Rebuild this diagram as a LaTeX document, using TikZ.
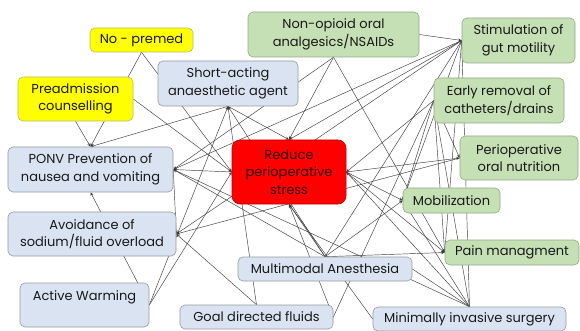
\documentclass[tikz,border=0pt]{standalone}
\usepackage{fontspec}
\setmainfont{Poppins}
\usetikzlibrary{arrows.meta}
\pgfdeclarelayer{bgfill}
\pgfdeclarelayer{background}
\pgfsetlayers{bgfill,background,main}
\definecolor{bluebox}{RGB}{218,227,242}
\definecolor{greenbox}{RGB}{197,224,180}
\definecolor{yellowbox}{RGB}{255,255,0}
\definecolor{redbox}{RGB}{255,0,0}
\definecolor{boxline}{RGB}{150,155,160}
\definecolor{yline}{RGB}{185,185,110}
\definecolor{gline}{RGB}{150,170,135}
\definecolor{rline}{RGB}{190,0,0}
\definecolor{txt}{RGB}{25,25,25}
\definecolor{rtxt}{RGB}{50,0,0}
\definecolor{wirecol}{RGB}{60,60,60}
\begin{document}
\begin{tikzpicture}[x=1pt,y=-1pt,
  box/.style={draw=boxline, line width=0.6pt, rounded corners=5pt, align=center,
    font=\fontsize{13}{17.5}\selectfont, text=txt, inner sep=1pt},
  ybox/.style={box, fill=yellowbox, draw=yline},
  bbox/.style={box, fill=bluebox},
  gbox/.style={box, fill=greenbox, draw=gline},
  rbox/.style={box, fill=redbox, draw=rline, text=rtxt, rounded corners=8pt},
  wire/.style={draw=wirecol, line width=0.45pt, -{Stealth[length=3.5pt,width=3pt]}},
  plainwire/.style={draw=wirecol, line width=0.45pt}]
\useasboundingbox (0,0) rectangle (580,331);
\begin{pgfonlayer}{bgfill}
\fill[white] (0,0) rectangle (580,331);
\end{pgfonlayer}

% nodes
\node[ybox, minimum width=103pt, minimum height=24pt] (np) at (141.5,40) {No - premed};
\node[ybox, minimum width=115pt, minimum height=44pt] (pc) at (75.5,99) {Preadmission\\counselling};
\node[bbox, minimum width=140pt, minimum height=45pt] (sa) at (228,83.5) {Short-acting\\anaesthetic agent};
\node[gbox, minimum width=171pt, minimum height=45pt] (ns) at (333.5,34.5) {Non-opioid oral\\analgesics/NSAIDs};
\node[gbox, minimum width=113pt, minimum height=45pt] (st) at (518.5,40.5) {Stimulation of\\gut motility};
\node[gbox, minimum width=130pt, minimum height=45pt] (er) at (499,100.5) {Early removal of\\catheters/drains};
\node[gbox, minimum width=118pt, minimum height=44pt] (po) at (519,158) {Perioperative\\oral nutrition};
\node[rbox, minimum width=114pt, minimum height=64pt] (rs) at (289,172) {Reduce\\perioperative\\stress};
\node[bbox, minimum width=165pt, minimum height=45pt] (ponv) at (90.5,169.5) {PONV Prevention of\\nausea and vomiting};
\node[bbox, minimum width=168pt, minimum height=44pt] (av) at (92,234) {Avoidance of\\sodium/fluid overload};
\node[gbox, minimum width=97pt, minimum height=25pt] (mo) at (451.5,200.5) {Mobilization};
\node[gbox, minimum width=134pt, minimum height=25pt] (pa) at (512,252.5) {Pain managment};
\node[bbox, minimum width=174pt, minimum height=24pt] (mm) at (325,269) {Multimodal Anesthesia};
\node[bbox, minimum width=129pt, minimum height=44pt, text height=13pt, text depth=22pt, inner ysep=4.5pt] (aw) at (84.5,305) {Active Warming};
\node[bbox, minimum width=153pt, minimum height=24pt] (gd) at (256.5,317) {Goal directed fluids};
\node[bbox, minimum width=193pt, minimum height=24pt] (mi) at (469.5,319) {Minimally invasive surgery};

% connectors (behind the boxes)
\begin{pgfonlayer}{background}
\draw[wire] (np.south) -- (ponv.north);
\draw[wire] (pc.south) -- (ponv.north);
\draw[wire] (sa.south) -- (ponv.north);
\draw[wire] (np.south) -- (rs.west);
\draw[wire] (pc.east) -- (rs.west);
\draw[wire] (aw.east) -- (ponv.south);
\draw[wire] (aw.east) -- (sa.south);
\draw[wire] (aw.east) -- (rs.west);
\draw[wire] (rs.west) -- (ponv.east);
\draw[wire] (st.west) -- (ponv.east);
\draw[wire] (ns.south) -- (ponv.east);
\draw[wire] (mm.north) -- (ponv.east);
\draw[plainwire] (ponv.east) -- (mi.north);
\draw[wire] (ponv.east) -- (av.east);
\draw[wire] (sa.south) -- (rs.north);
\draw[wire] (ns.south) -- (rs.north);
\draw[wire] (st.west) -- (rs.north);
\draw[wire] (mm.north) -- (sa.south);
\draw[wire] (gd.north) -- (sa.south);
\draw[wire] (gd.north) -- (av.east);
\draw[wire] (st.west) -- (av.east);
\draw[wire] (po.west) -- (av.east);
\draw[wire] (ns.east) -- (st.west);
\draw[wire] (ns.south) -- (pa.west);
\draw[wire] (rs.east) -- (po.west);
\draw[wire] (er.west) -- (rs.east);
\draw[wire] (rs.east) -- (mo.west);
\draw[wire] (rs.east) -- (pa.west);
\draw[wire] (mm.north) -- (rs.south);
\draw[wire] (gd.east) -- (rs.south);
\draw[wire] (mi.west) -- (rs.south);
\draw[wire] (mm.north) -- (mo.west);
\draw[wire] (mm.north) -- (pa.west);
\draw[plainwire] (mm.east) -- (mi.north);
\draw[wire] (mi.north) -- (mo.west);
\draw[wire] (mi.north) -- (rs.east);
\draw[wire] (mi.north) -- (st.west);
\draw[plainwire] (mi.north) -- (er.west);
\draw[wire] (er.west) -- (mo.west);
\draw[wire] (er.west) -- (pa.west);
\draw[plainwire] (er.west) -- (gd.east);
\draw[wire] (er.west) -- (po.west);
\draw[wire] (st.west) -- (mo.west);
\draw[wire] (st.west) -- (pa.west);
\draw[plainwire] (st.west) -- (mm.north);
\end{pgfonlayer}
\end{tikzpicture}
\end{document}
